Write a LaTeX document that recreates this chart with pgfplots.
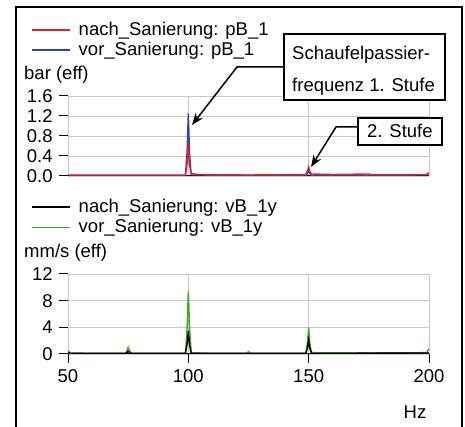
\documentclass[border=0pt]{standalone}
\usepackage{fontspec}
\setmainfont{Liberation Sans}
\usepackage{pgfplots}
\pgfplotsset{compat=1.18}
\usetikzlibrary{arrows.meta}

\definecolor{cred}{RGB}{228,32,38}
\definecolor{cblue}{RGB}{48,68,160}
\definecolor{cgreen}{RGB}{64,170,40}
\definecolor{cgrid}{RGB}{200,200,200}

\pgfplotsset{
  spec/.style={
    scale only axis, width=361pt, height=80pt,
    xmin=50, xmax=200,
    axis lines=left, axis line style={-},
    x axis line style={black, line width=1pt},
    y axis line style={cgrid, line width=1pt},
    grid=major, grid style={cgrid, line width=0.9pt},
    xtick={50,100,150,200},
    tick align=outside, major tick length=9pt,
    tick style={black, line width=1pt},
    /pgf/number format/assume math mode=true,
    legend cell align=left,
    reverse legend,
    legend image code/.code={\draw[#1, line width=1.3pt] (0pt,0pt) -- (38pt,0pt); \path (44pt,0pt);},
    legend style={draw=none, fill=none, anchor=west, inner sep=0pt, row sep=0pt},
  },
}

\begin{document}
\fontsize{18.5}{22}\selectfont
\begin{tikzpicture}
\useasboundingbox (0,0) rectangle (465pt,427pt);

% pressure spectrum
\begin{axis}[spec,
  at={(68pt,251pt)}, anchor=south west,
  ymin=0, ymax=1.6,
  ytick={0,0.4,0.8,1.2,1.6},
  yticklabel style={/pgf/number format/fixed, /pgf/number format/fixed zerofill, /pgf/number format/precision=1},
  xticklabels={}, major x tick style={draw=none},
  legend style={at={(-0.102,1.70)}},
]
\addplot[cblue, line width=1.4pt] coordinates {
 (50,0.01) (98.8,0.01) (99.5,0.5) (100,1.25) (100.5,0.45) (101.2,0.02)
 (149,0.01) (150,0.1) (151,0.01) (200,0.02)};
\addlegendentry{vor\_Sanierung: pB\_1}
\addplot[cred, line width=1.4pt] coordinates {
 (50,0.02) (70,0.02) (98.8,0.02) (99.5,0.25) (100,0.65) (100.5,0.22) (101.2,0.05)
 (104,0.03) (125,0.02) (148.8,0.03) (149.5,0.1) (150,0.18) (150.5,0.09) (151.2,0.04)
 (160,0.03) (175,0.04) (176,0.03) (199,0.03) (199.6,0.06) (200,0.05)};
\addlegendentry{nach\_Sanierung: pB\_1}
\end{axis}

% vibration velocity spectrum
\begin{axis}[spec,
  at={(68pt,73pt)}, anchor=south west,
  ymin=0, ymax=12,
  ytick={0,4,8,12},
  xticklabels={50,100,150,200},
  legend style={at={(-0.102,1.71)}},
]
\addplot[cgreen, line width=1.4pt] coordinates {
 (50,0.5) (51,0.15) (60,0.1) (74,0.1) (75,1.0) (76,0.2) (77,0.1)
 (98.8,0.1) (99.5,4) (100,9.4) (100.5,4) (101.2,0.2) (110,0.1)
 (124,0.1) (125,0.35) (126,0.1) (148.8,0.1) (149.5,1.8) (150,4.0) (150.5,1.6)
 (151.2,0.2) (175,0.15) (199,0.2) (200,0.8)};
\addlegendentry{vor\_Sanierung: vB\_1y}
\addplot[black, line width=1.4pt] coordinates {
 (50,0.2) (51,0.1) (74,0.1) (75,0.4) (76,0.1) (98.8,0.1) (99.5,1.5) (100,3.5)
 (100.5,1.4) (101.2,0.1) (148.8,0.1) (149.5,0.9) (150,2.1) (150.5,0.8) (151.2,0.1)
 (200,0.15)};
\addlegendentry{nach\_Sanierung: vB\_1y}
\end{axis}

\begin{scope}[x=1pt, y=1pt]
\draw[line width=1.5pt] (16,0) -- (16,420) -- (462,420) -- (462,0);
\node[anchor=west, inner sep=0pt] at (24,352) {bar (eff)};
\node[anchor=west, inner sep=0pt] at (24,174) {mm/s (eff)};
\node[inner sep=0pt] at (415,15) {Hz};
% annotations
\draw[line width=1.5pt, fill=white] (284,327) rectangle (445,393);
\node[anchor=west, inner sep=0pt] at (292,372) {Schaufelpassier-};
\node[anchor=west, inner sep=0pt] at (292,340) {frequenz 1. Stufe};
\draw[line width=1.5pt, -{Stealth[length=12pt, width=9pt]}] (284,360) -- (237,360) -- (192,302);
\draw[line width=1.5pt, fill=white] (358,282) rectangle (442,309);
\node[anchor=west, inner sep=0pt] at (367,296) {2. Stufe};
\draw[line width=1.5pt, -{Stealth[length=12pt, width=9pt]}] (358,300) -- (336,300) -- (311,260);
\end{scope}
\end{tikzpicture}
\end{document}
